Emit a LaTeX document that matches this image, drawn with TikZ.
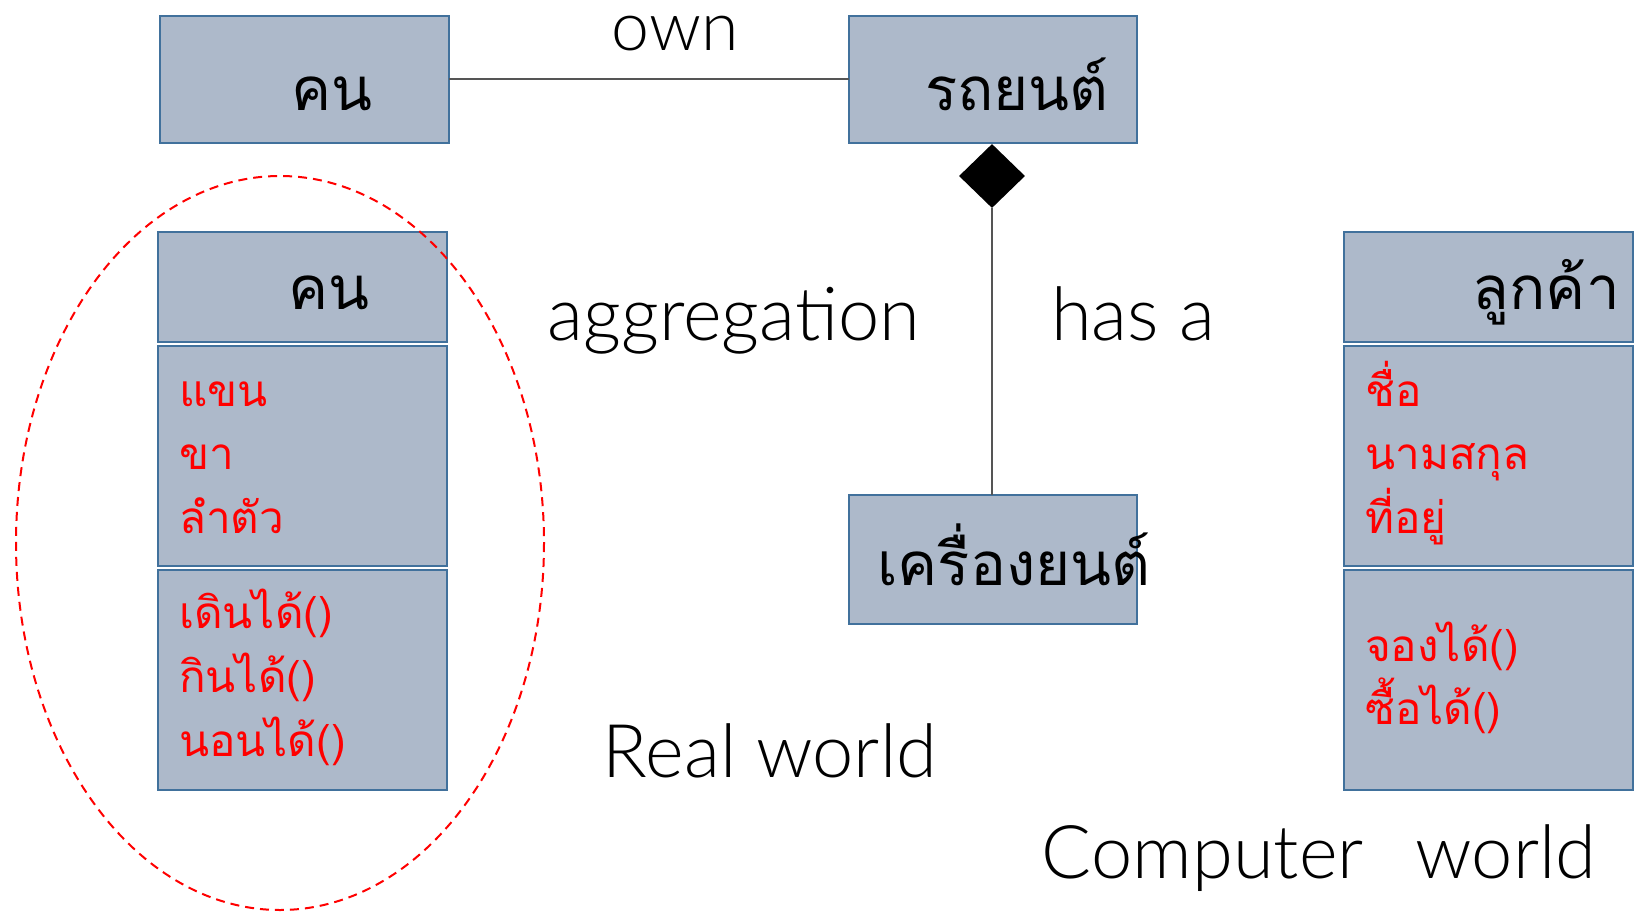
\documentclass[tikz,border=0pt]{standalone}
\usepackage{fontspec}
\setmainfont[Script=Thai]{Loma}
\newfontfamily\latinlight{Lato Light}
\usetikzlibrary{shapes.geometric}
\definecolor{boxfill}{HTML}{ADB9CA}
\definecolor{boxline}{HTML}{41719C}
\definecolor{linkgray}{HTML}{555555}
\tikzset{
  box/.style={draw=boxline, fill=boxfill, line width=2pt},
  big/.style={inner sep=0pt, font=\fontsize{60}{64}\selectfont},
  word/.style={inner sep=0pt, font=\latinlight\fontsize{74}{80}\selectfont},
  attr/.style={inner sep=0pt, text=red, font=\fontsize{44}{64}\selectfont},
  link/.style={draw=linkgray, line width=1.3pt},
}
\begin{document}
\begin{tikzpicture}[x=1pt,y=-1pt]
\useasboundingbox (0,0) rectangle (1639,913);
\fill[white] (0,0) rectangle (1639,913);

% association: person owns car
\draw[box] (160,16) rectangle (449,143);
\coordinate (kon) at (449,79);
\node[big, anchor=base] at (332,110) {คน};
\draw[box] (849,16) rectangle (1137,143);
\coordinate (car) at (849,79);
\node[big, anchor=base] at (1017,110) {รถยนต์};
\draw[link] (kon) -- (car);
\node[word, anchor=base, font=\latinlight\fontsize{68}{80}\selectfont] (own) at (675,50) {own};

% composition: car has an engine
\node[diamond, fill=black, minimum width=66pt, minimum height=64pt, inner sep=0pt] (dia) at (992,176) {};
\draw[box] (849,495) rectangle (1137,624);
\coordinate (eng) at (992,495);
\node[big, anchor=base] at (1014,585) {เครื่องยนต์};
\draw[link] (dia.south) -- (eng);
\node[word, anchor=base] at (734,340) {aggregation};
\node[word, anchor=base] at (1133,340) {has a};

% class: person
\draw[box] (158,232) rectangle (447,342);
\draw[box] (158,346) rectangle (447,566);
\draw[box] (158,570) rectangle (447,790);
\node[big, anchor=base] at (329,309) {คน};
\node[attr, anchor=base west] at (179,406) {แขน};
\node[attr, anchor=base west] at (179,469) {ขา};
\node[attr, anchor=base west] at (179,533) {ลำตัว};
\node[attr, anchor=base west] at (179,628) {เดินได้()};
\node[attr, anchor=base west] at (179,692) {กินได้()};
\node[attr, anchor=base west] at (179,756) {นอนได้()};
\draw[red, dashed, line width=2pt, dash pattern=on 9pt off 6pt] (280,543) ellipse [x radius=264, y radius=367];
\node[word, anchor=base] at (770,777) {Real world};

% class: customer
\draw[box] (1344,232) rectangle (1633,342);
\draw[box] (1344,346) rectangle (1633,566);
\draw[box] (1344,570) rectangle (1633,790);
\node[big, anchor=base east] at (1620,309) {ลูกค้า};
\node[attr, anchor=base west] at (1365,406) {ชื่อ};
\node[attr, anchor=base west] at (1365,469) {นามสกุล};
\node[attr, anchor=base west] at (1365,533) {ที่อยู่};
\node[attr, anchor=base west] at (1365,661) {จองได้()};
\node[attr, anchor=base west] at (1365,724) {ซื้อได้()};
\node[word, anchor=base] at (1319,878) {Computer\hspace{0.7em}world};
\end{tikzpicture}
\end{document}
